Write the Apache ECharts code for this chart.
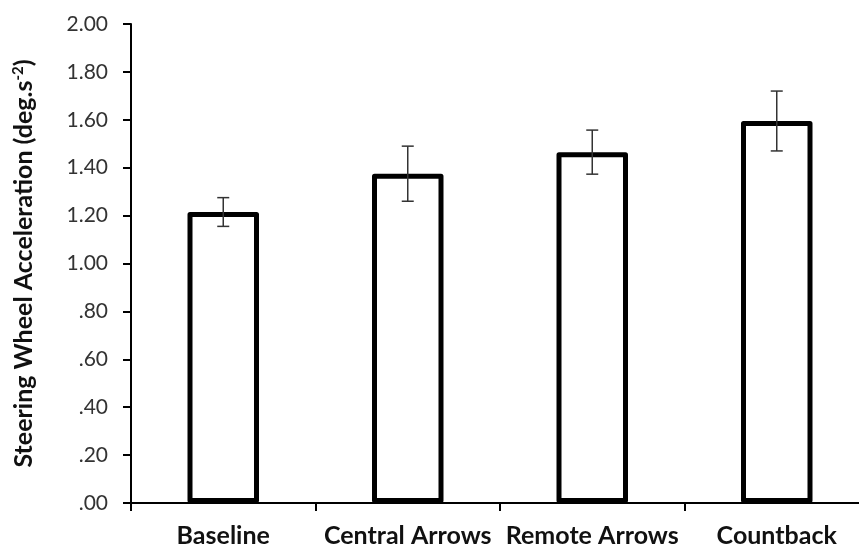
<!DOCTYPE html>
<html>
<head>
<meta charset="utf-8">
<script src="https://cdn.jsdelivr.net/npm/echarts@6/dist/echarts.min.js"></script>
<style>html,body{margin:0;padding:0;background:#fff}#c{width:859px;height:550px}</style>
</head>
<body>
<div id="c"></div>
<script>
const categories = ['Baseline', 'Central Arrows', 'Remote Arrows', 'Countback'];
const means = [1.215, 1.375, 1.465, 1.595];
const errors = [0.06, 0.115, 0.092, 0.125];
const yTicks = [0, 0.2, 0.4, 0.6, 0.8, 1.0, 1.2, 1.4, 1.6, 1.8, 2.0];

const chart = echarts.init(document.getElementById('c'), null, {renderer: 'canvas'});
const errData = categories.map((c, i) => [i, means[i] - errors[i], means[i] + errors[i]]);

chart.setOption({
  animation: false,
  backgroundColor: '#fff',
  grid: {left: 131, right: -10, top: 24, bottom: 47, containLabel: false, outerBoundsMode: 'none'},
  xAxis: {
    type: 'category',
    data: categories,
    boundaryGap: true,
    axisLine: {lineStyle: {color: '#000', width: 2}},
    axisTick: {show: true, length: 8, lineStyle: {color: '#000', width: 2}},
    axisLabel: {
      margin: 20,
      fontFamily: 'Lato',
      fontWeight: 'bold',
      fontSize: 25,
      color: '#111',
      interval: 0
    },
    splitLine: {show: false}
  },
  yAxis: {
    type: 'value',
    min: yTicks[0],
    max: yTicks[yTicks.length - 1],
    interval: 0.2,
    name: 'Steering Wheel Acceleration (deg.s{sup|-2})',
    nameLocation: 'middle',
    nameRotate: 90,
    nameGap: 95,
    nameTextStyle: {
      fontFamily: 'Lato',
      fontWeight: 'bold',
      fontSize: 25,
      color: '#111',
      rich: {
        sup: {fontFamily: 'Lato', fontWeight: 'bold', fontSize: 15, color: '#111', verticalAlign: 'top', padding: [0, 0, 10, 0]}
      }
    },
    axisLine: {show: true, lineStyle: {color: '#000', width: 2}},
    axisTick: {show: true, length: 8, lineStyle: {color: '#000', width: 2}},
    axisLabel: {
      margin: 23,
      fontFamily: 'Lato',
      fontSize: 21,
      color: '#333',
      formatter: v => {
        const s = v.toFixed(2);
        return v < 1 ? s.replace(/^0/, '') : s;
      }
    },
    splitLine: {show: false}
  },
  series: [
    {
      type: 'bar',
      data: means,
      barWidth: 71.5,
      itemStyle: {color: '#fff', borderColor: '#000', borderWidth: 5, borderJoin: 'round'},
      z: 2
    },
    {
      type: 'custom',
      data: errData,
      z: 3,
      renderItem: (params, api) => {
        const x = api.value(0);
        const lo = api.coord([x, api.value(1)]);
        const hi = api.coord([x, api.value(2)]);
        const hw = 6;
        const st = {stroke: '#333', lineWidth: 1.5};
        return {
          type: 'group',
          children: [
            {type: 'line', shape: {x1: hi[0], y1: hi[1], x2: lo[0], y2: lo[1]}, style: st},
            {type: 'line', shape: {x1: hi[0] - hw, y1: hi[1], x2: hi[0] + hw, y2: hi[1]}, style: st},
            {type: 'line', shape: {x1: lo[0] - hw, y1: lo[1], x2: lo[0] + hw, y2: lo[1]}, style: st}
          ]
        };
      }
    }
  ]
});
</script>
</body>
</html>
